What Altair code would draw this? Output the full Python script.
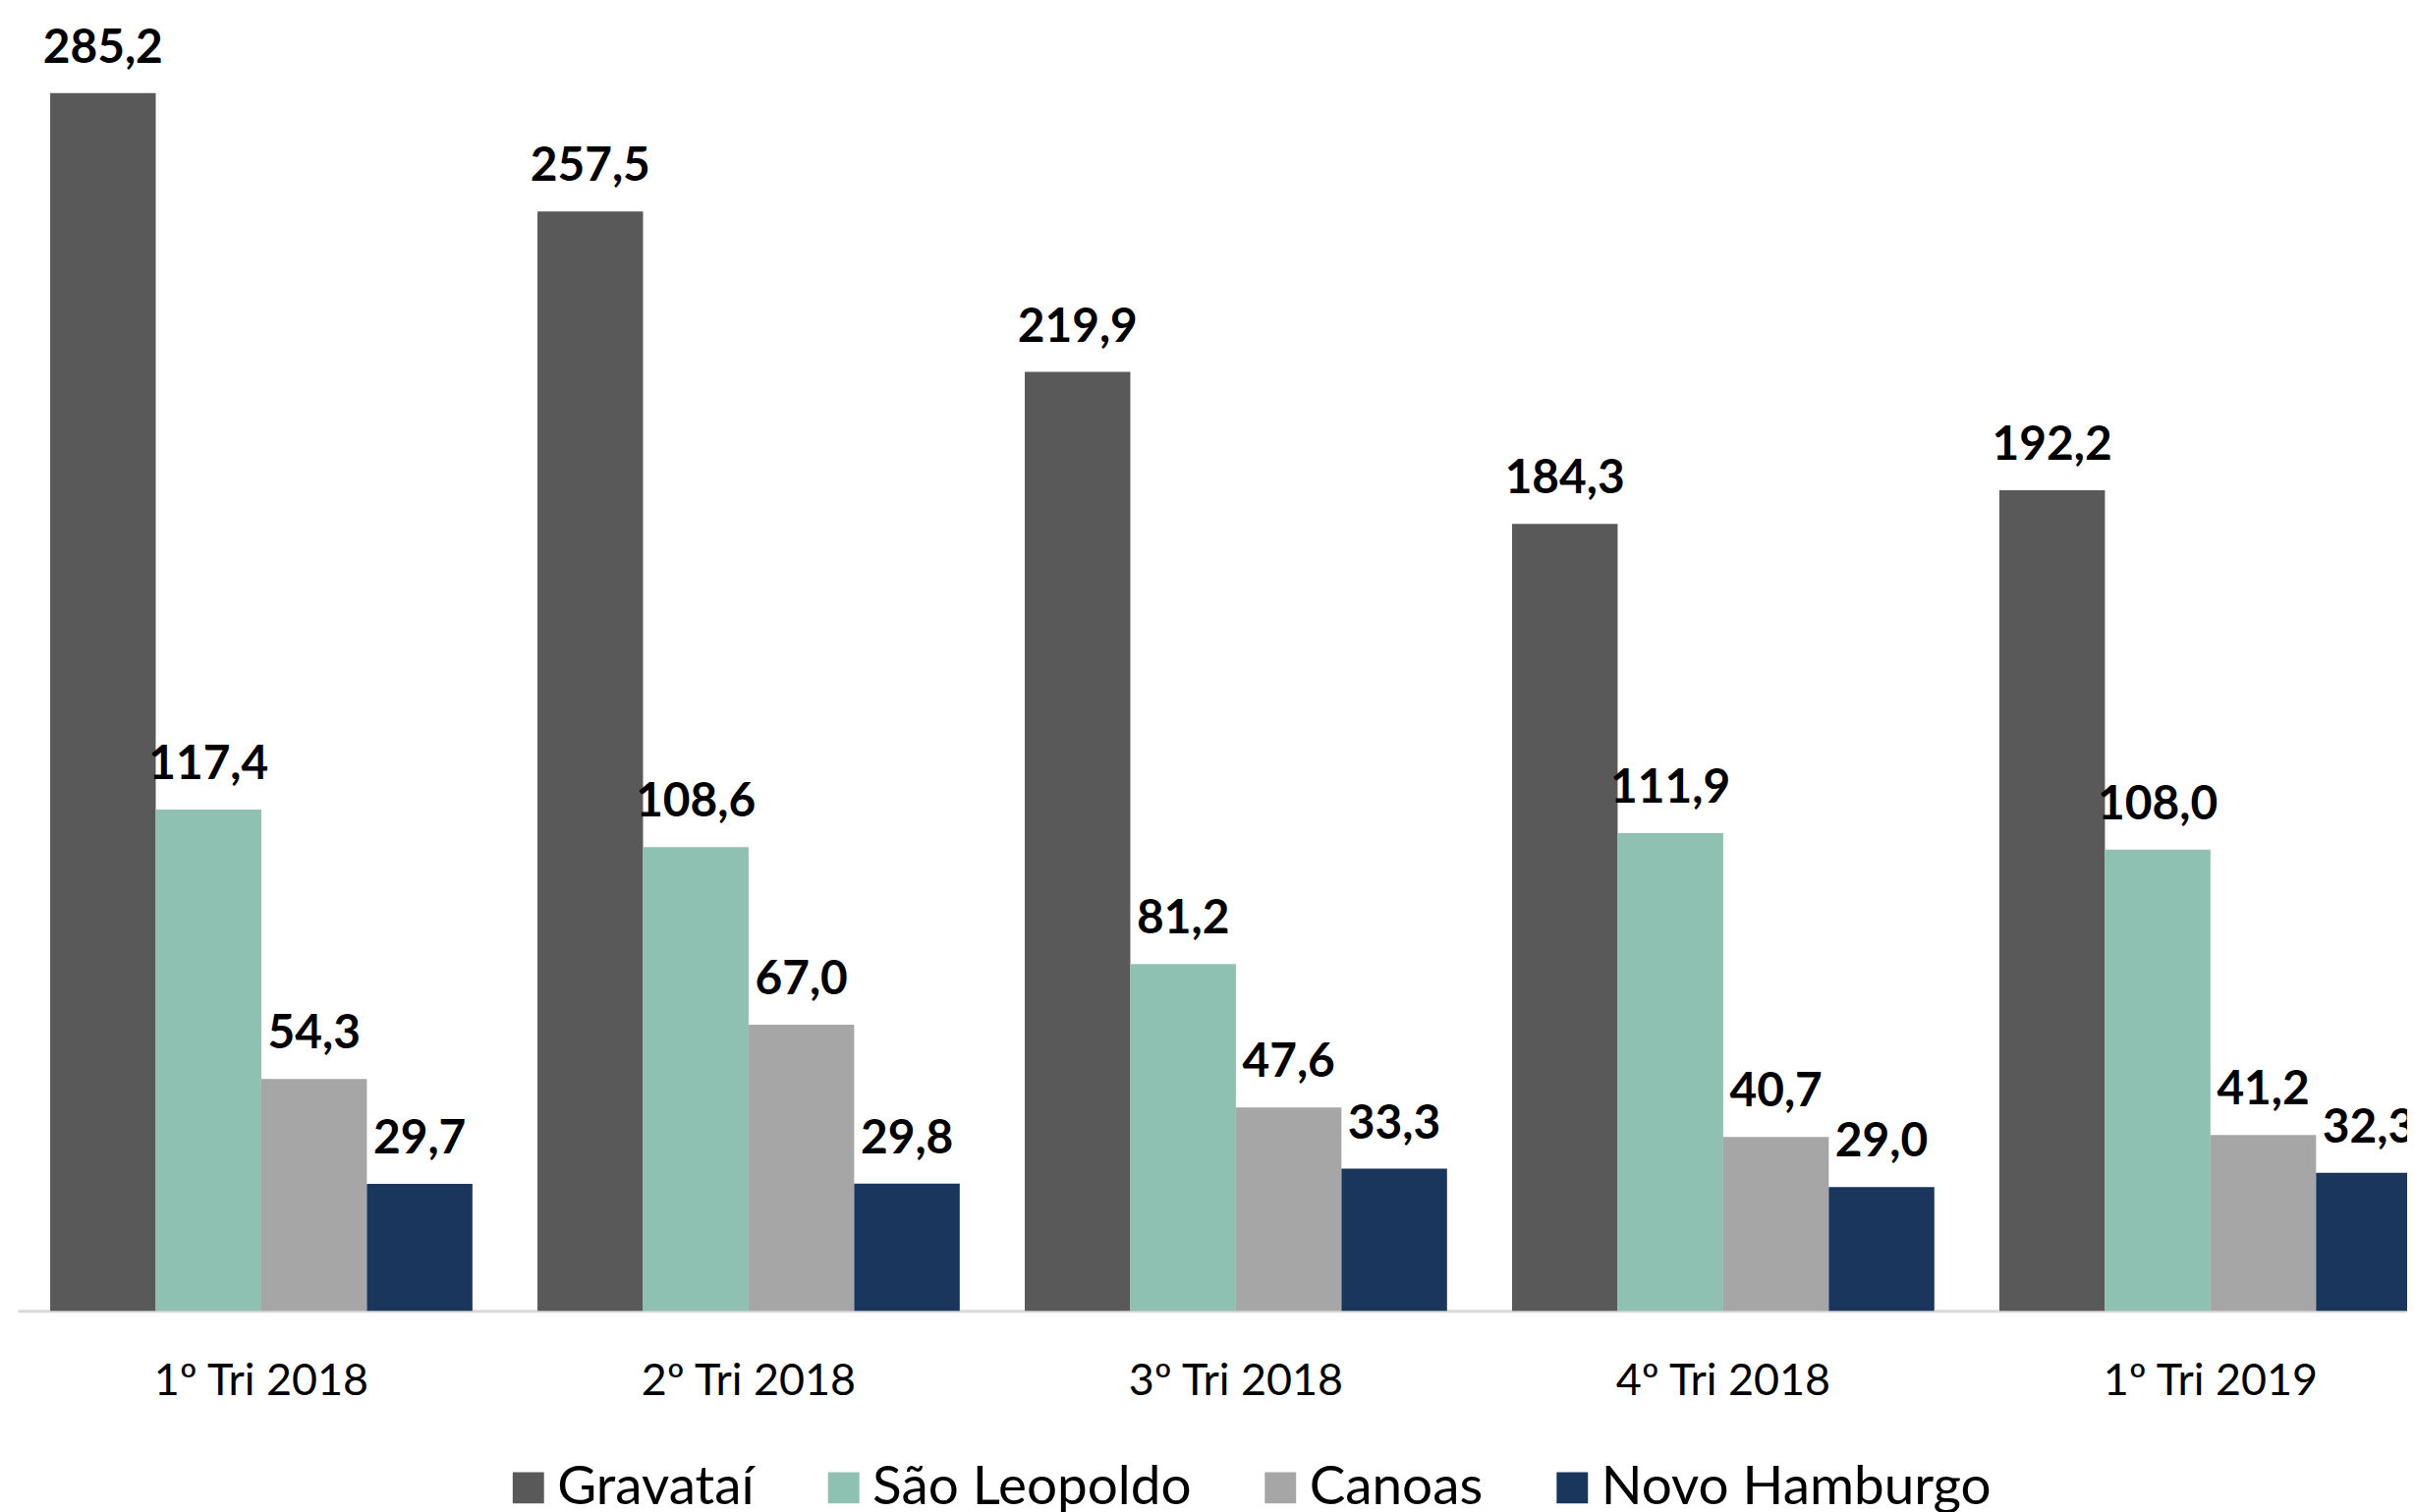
import altair as alt
import pandas as pd

quarters = ["1º Tri 2018", "2º Tri 2018", "3º Tri 2018", "4º Tri 2018", "1º Tri 2019"]
cities = ["Gravataí", "São Leopoldo", "Canoas", "Novo Hamburgo"]
gravatai = [285.2, 257.5, 219.9, 184.3, 192.2]
sao_leopoldo = [117.4, 108.6, 81.2, 111.9, 108.0]
canoas = [54.3, 67.0, 47.6, 40.7, 41.2]
novo_hamburgo = [29.7, 29.8, 33.3, 29.0, 32.3]
colors = ["#595959", "#8FC1B3", "#A6A6A6", "#1A365D"]

series = [gravatai, sao_leopoldo, canoas, novo_hamburgo]
rows = []
for q_i, q in enumerate(quarters):
    for c_i, c in enumerate(cities):
        rows.append({"Trimestre": q, "Cidade": c, "Valor": series[c_i][q_i]})
df = pd.DataFrame(rows)

base = alt.Chart(df).transform_calculate(
    Rotulo="replace(format(datum.Valor, '.1f'), '.', ',')"
).encode(
    x=alt.X(
        "Trimestre:N",
        sort=quarters,
        scale=alt.Scale(range=[0, 2488], paddingInner=0, paddingOuter=0),
        axis=alt.Axis(
            title=None,
            labelAngle=0,
            labelFont="Lato",
            labelFontSize=45,
            labelColor="#000000",
            labelBaseline="middle",
            labelPadding=72,
            labelLimit=0,
            ticks=False,
            domainColor="#d9d9d9",
            domainWidth=3,
        ),
    ),
    xOffset=alt.XOffset(
        "Cidade:N",
        sort=cities,
        scale=alt.Scale(paddingInner=0, paddingOuter=0.308),
    ),
)

bars = base.mark_bar().encode(
    y=alt.Y("Valor:Q", scale=alt.Scale(domain=[0, 304.6], nice=False, zero=True), axis=None),
    color=alt.Color(
        "Cidade:N",
        sort=cities,
        scale=alt.Scale(domain=cities, range=colors),
        legend=alt.Legend(
            title=None,
            orient="none",
            legendX=494,
            legendY=1481,
            direction="horizontal",
            symbolType="square",
            symbolSize=1024,
            symbolStrokeWidth=0,
            labelFont="Lato",
            labelFontSize=55,
            labelColor="#000000",
            labelOffset=2,
            labelLimit=0,
            columnPadding=63,
            padding=0,
        ),
    ),
)

labels = base.mark_text(
    font="Lato", fontWeight="bold", fontSize=48, baseline="middle", dy=-45, color="#000000"
).encode(
    y=alt.Y("Valor:Q"),
    text="Rotulo:N",
)

chart = alt.layer(bars, labels).properties(
    width=2440,
    height=1328,
    autosize=alt.AutoSizeParams(type="none"),
    padding={"left": 10, "top": 0, "right": 0, "bottom": 203},
).configure_view(stroke=None)

chart.save("out.html", embed_options={"renderer": "svg", "actions": False})
